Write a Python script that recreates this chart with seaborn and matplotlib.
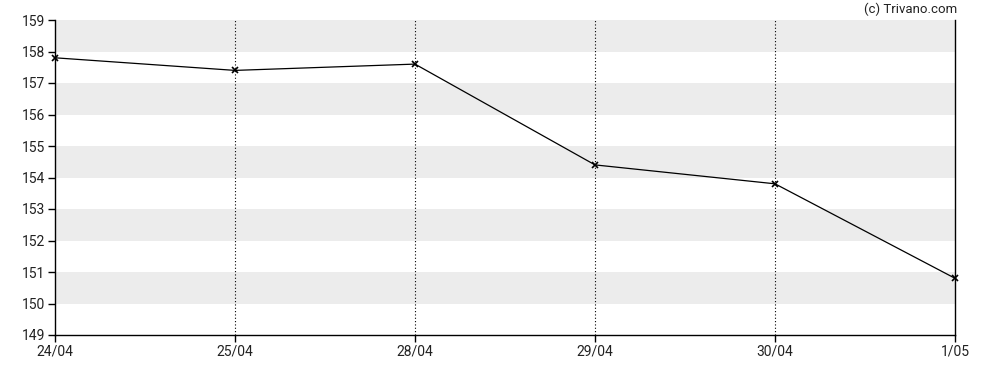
import matplotlib
matplotlib.use("Agg")
import matplotlib.pyplot as plt
import seaborn as sns
import pandas as pd

# data
dates = ['24/04', '25/04', '28/04', '29/04', '30/04', '1/05']
prices = [157.8, 157.4, 157.6, 154.4, 153.8, 150.8]
y_ticks = [149, 150, 151, 152, 153, 154, 155, 156, 157, 158, 159]

df = pd.DataFrame({'pos': range(len(dates)), 'price': prices})

sns.set_style('white')
plt.rcParams['font.family'] = ['Roboto', 'DejaVu Sans']

fig = plt.figure(figsize=(9.88, 3.7), dpi=100)
ax = fig.add_axes([55 / 988, 1 - 335 / 370, 900 / 988, 315 / 370])

# alternating grey bands
for lo in range(150, 159, 2):
    ax.axhspan(lo, lo + 1, color='#ececec', lw=0, zorder=0)

# dotted verticals at each date
for i in range(1, len(dates) - 1):
    ax.axvline(i, color='black', ls=(0, (1, 2)), lw=0.8, zorder=1)

sns.lineplot(data=df, x='pos', y='price', color='black', lw=0.9,
             marker='x', markersize=4, markeredgewidth=1.2,
             markeredgecolor='black', ax=ax, zorder=3, clip_on=False)

ax.set_xlim(0, len(dates) - 1)
ax.set_ylim(149, 159)
ax.set_xticks(range(len(dates)))
ax.set_xticklabels(dates)
ax.set_yticks(y_ticks)
ax.set_xlabel('')
ax.set_ylabel('')

for s in ['left', 'bottom', 'right']:
    ax.spines[s].set_visible(True)
    ax.spines[s].set_color('black')
    ax.spines[s].set_linewidth(1)
ax.spines['top'].set_visible(False)

ax.tick_params(axis='both', direction='out', length=5, width=1, color='black',
               labelsize=10, labelcolor='#222222', left=True, bottom=True, pad=2)

fig.text(957 / 988, 1 - 9 / 370, '(c) Trivano.com', ha='right', va='center',
         fontsize=9.5, color='#222222')

fig.savefig('out.png', dpi=100)
